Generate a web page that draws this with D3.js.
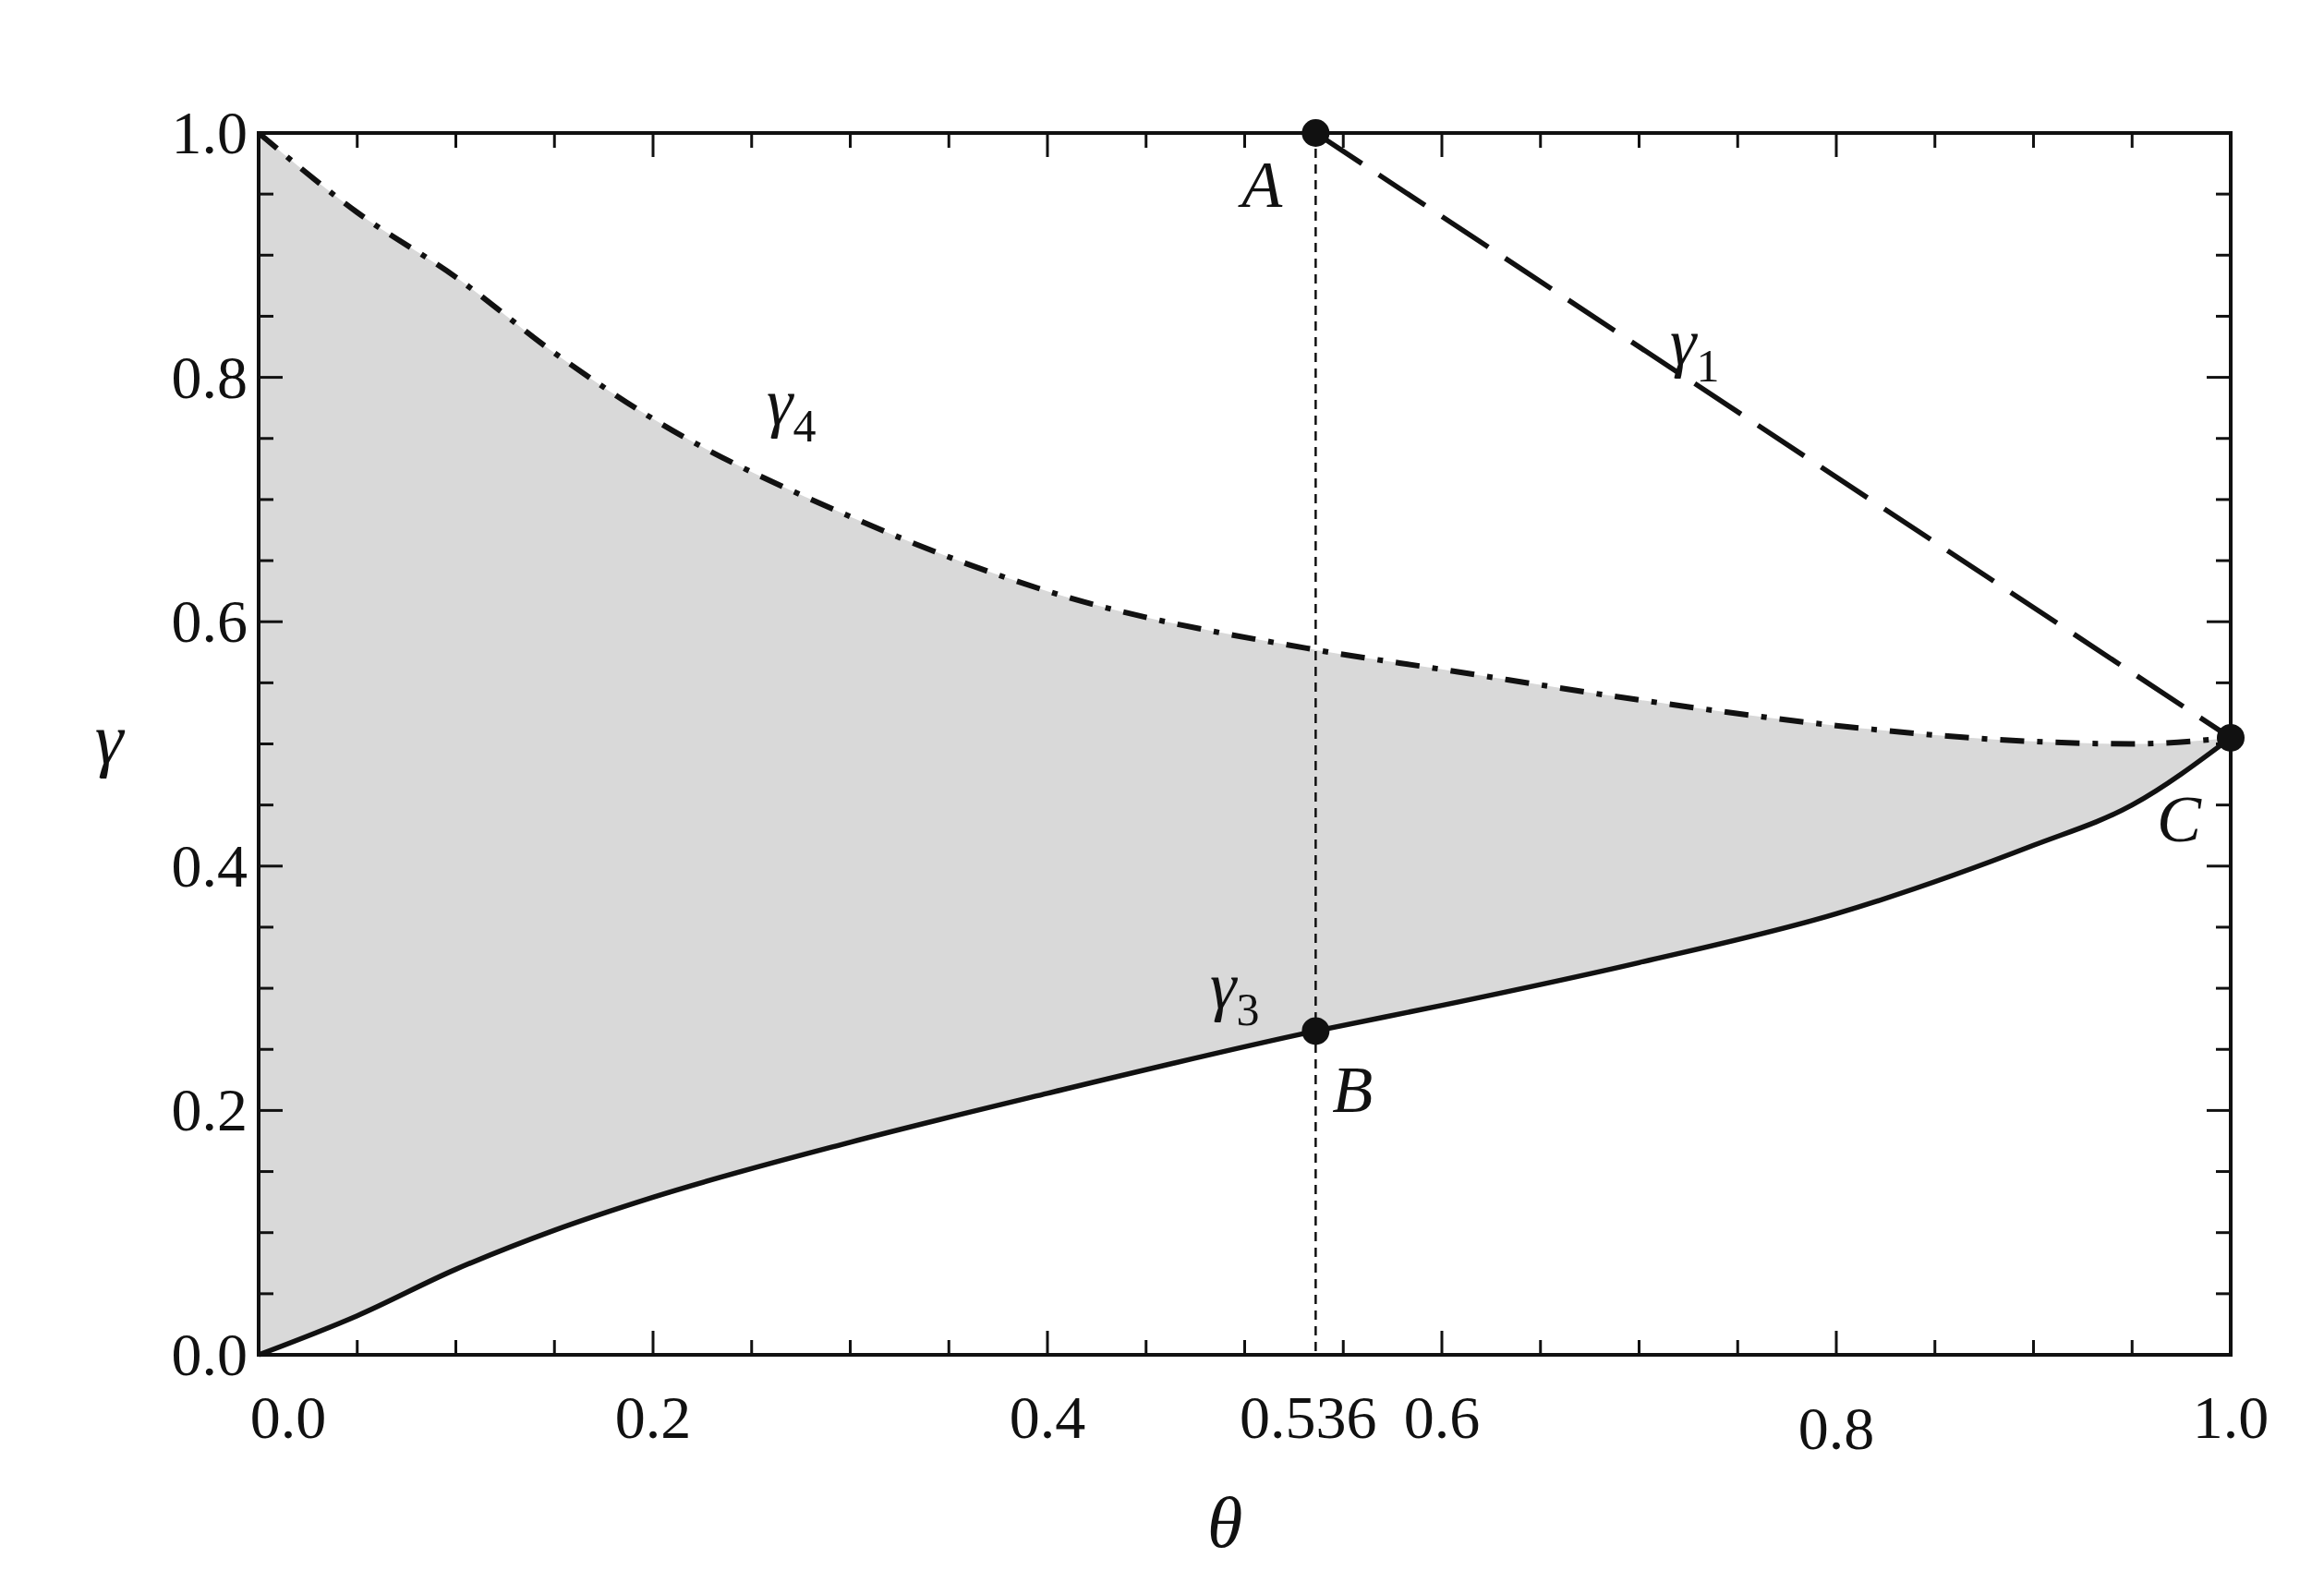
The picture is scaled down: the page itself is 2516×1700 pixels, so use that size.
<!DOCTYPE html>
<html>
<head>
<meta charset="UTF-8">
<style>
  body { margin: 0; background: #fff; }
  text { font-family: "Liberation Serif", "DejaVu Serif", serif; fill: #111; }
</style>
<script src="https://d3js.org/d3.v7.min.js"></script>
</head>
<body>
<div id="chart"></div>
<script>
// values
const thetaGrid = [0, 0.05, 0.1, 0.15, 0.2, 0.3, 0.4, 0.536, 0.6, 0.7, 0.8, 0.9, 0.95, 1.0];
const gamma3 = [0, 0.032, 0.07, 0.102, 0.129, 0.174, 0.214, 0.265, 0.286, 0.321, 0.361, 0.417, 0.45, 0.505];
const gamma4 = [1.0, 0.935, 0.882, 0.82, 0.766, 0.686, 0.625, 0.577, 0.561, 0.536, 0.515, 0.502, 0.5, 0.505];
const pointA = [0.536, 1.0];
const pointB = [0.536, 0.265];
const pointC = [1.0, 0.505];
const xTicks = [0, 0.2, 0.4, 0.6, 0.8, 1.0];
const yTicks = [0, 0.2, 0.4, 0.6, 0.8, 1.0];

const W = 2516, H = 1700;
const plotL = 280, plotR = 2415, plotT = 144, plotB = 1467;

const svg = d3.select("#chart").append("svg").attr("width", W).attr("height", H);
const x = d3.scaleLinear().domain([0, 1]).range([plotL, plotR]);
const y = d3.scaleLinear().domain([0, 1]).range([plotB, plotT]);

const pts3 = thetaGrid.map((t, i) => [t, gamma3[i]]);
const pts4 = thetaGrid.map((t, i) => [t, gamma4[i]]);

// shaded region
svg.append("path")
  .datum(thetaGrid.map((t, i) => ({ t, lo: gamma3[i], hi: gamma4[i] })))
  .attr("d", d3.area().x(d => x(d.t)).y0(d => y(d.lo)).y1(d => y(d.hi)).curve(d3.curveMonotoneX))
  .attr("fill", "#d9d9d9");

const line = d3.line().x(d => x(d[0])).y(d => y(d[1])).curve(d3.curveMonotoneX);

// dashed vertical at theta = 0.536
svg.append("line")
  .attr("x1", x(pointA[0])).attr("x2", x(pointA[0]))
  .attr("y1", y(1)).attr("y2", y(0))
  .attr("stroke", "#111").attr("stroke-width", 2.5).attr("stroke-dasharray", "10,7");

// gamma4 dash-dot
svg.append("path").datum(pts4).attr("d", line)
  .attr("fill", "none").attr("stroke", "#111").attr("stroke-width", 6)
  .attr("stroke-dasharray", "26,14,6,14");

// gamma3 solid
svg.append("path").datum(pts3).attr("d", line)
  .attr("fill", "none").attr("stroke", "#111").attr("stroke-width", 5.5);

// gamma1 dashed line A -> C
svg.append("line")
  .attr("x1", x(pointA[0])).attr("y1", y(pointA[1]))
  .attr("x2", x(pointC[0])).attr("y2", y(pointC[1]))
  .attr("stroke", "#111").attr("stroke-width", 5.5).attr("stroke-dasharray", "60,22");

// frame
svg.append("rect").attr("x", plotL).attr("y", plotT)
  .attr("width", plotR - plotL).attr("height", plotB - plotT)
  .attr("fill", "none").attr("stroke", "#111").attr("stroke-width", 4);

// ticks (inward)
const minor = d3.range(0, 1.0001, 0.05);
const g = svg.append("g").attr("stroke", "#111").attr("stroke-width", 3);
minor.forEach(v => {
  const major = Math.abs(v * 5 - Math.round(v * 5)) < 1e-6;
  const len = major ? 26 : 16;
  g.append("line").attr("x1", x(v)).attr("x2", x(v)).attr("y1", plotB).attr("y2", plotB - len);
  g.append("line").attr("x1", x(v)).attr("x2", x(v)).attr("y1", plotT).attr("y2", plotT + len);
  g.append("line").attr("y1", y(v)).attr("y2", y(v)).attr("x1", plotL).attr("x2", plotL + len);
  g.append("line").attr("y1", y(v)).attr("y2", y(v)).attr("x1", plotR).attr("x2", plotR - len);
});

// tick labels
const fs = 66;
xTicks.forEach(v => {
  svg.append("text").attr("x", x(v) + (v === 0 ? 32 : 0)).attr("y", plotB + 90 + (v === 0.8 ? 12 : 0))
    .attr("text-anchor", "middle").attr("font-size", fs).text(v.toFixed(1));
});
svg.append("text").attr("x", x(pointA[0]) - 8).attr("y", plotB + 90)
  .attr("text-anchor", "middle").attr("font-size", fs).text("0.536");
yTicks.forEach(v => {
  svg.append("text").attr("x", plotL - 12).attr("y", y(v) + 22)
    .attr("text-anchor", "end").attr("font-size", fs).text(v.toFixed(1));
});

// axis titles
svg.append("text").attr("x", 118).attr("y", y(0.5) + 20).attr("font-size", 78)
  .attr("font-style", "italic").attr("text-anchor", "middle").text("γ");
svg.append("text").attr("x", x(0.49)).attr("y", 1675).attr("font-size", 78)
  .attr("font-style", "italic").attr("text-anchor", "middle").text("θ");

// points
[pointA, pointB, pointC].forEach(p => {
  svg.append("circle").attr("cx", x(p[0])).attr("cy", y(p[1])).attr("r", 15).attr("fill", "#111");
});

// annotations
function label(tx, ty, main, sub) {
  const t = svg.append("text").attr("x", tx).attr("y", ty).attr("font-size", 72).attr("font-style", "italic");
  t.append("tspan").text(main);
  if (sub) t.append("tspan").attr("font-style", "normal").attr("font-size", 50).attr("dy", 18).text(sub);
}
label(x(pointA[0]) - 80, y(pointA[1]) + 80, "A");
label(x(pointB[0]) + 18, y(pointB[1]) + 88, "B");
label(x(pointC[0]) - 80, y(pointC[1]) + 112, "C");
label(1808, 395, "γ", "1");
label(830, 460, "γ", "4");
label(1310, 1092, "γ", "3");
</script>
</body>
</html>
